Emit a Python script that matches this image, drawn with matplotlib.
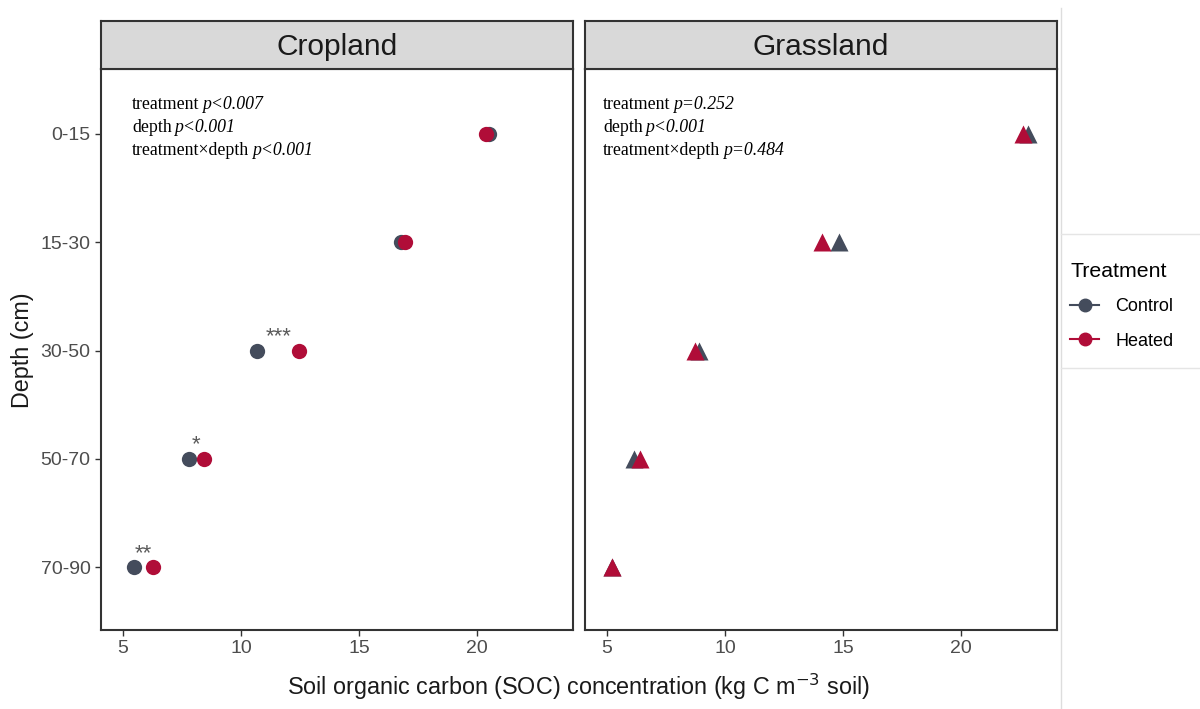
import numpy as np
import matplotlib
matplotlib.use("Agg")
import matplotlib.pyplot as plt
from matplotlib.lines import Line2D

depths = ["0-15", "15-30", "30-50", "50-70", "70-90"]
crop_control = [20.5, 16.8, 10.7, 7.8, 5.47]
crop_heated = [20.4, 16.95, 12.46, 8.43, 6.27]
grass_control = [22.84, 14.83, 8.92, 6.14, 5.21]
grass_heated = [22.63, 14.1, 8.73, 6.40, 5.21]
crop_stars = ["", "", "***", "*", "**"]

crop_stats = [("treatment", "p<0.007"), ("depth", "p<0.001"), ("treatment\u00d7depth", "p<0.001")]
grass_stats = [("treatment", "p=0.252"), ("depth", "p<0.001"), ("treatment\u00d7depth", "p=0.484")]

grey = "#444C5C"
red = "#B00D38"
W, H = 1200, 709

plt.rcParams['font.family'] = ['Liberation Sans', 'DejaVu Sans']
fig = plt.figure(figsize=(12, 7.09), dpi=100)

def px(x0, y0, x1, y1):
    return [x0 / W, 1 - y1 / H, (x1 - x0) / W, (y1 - y0) / H]

panels = [
    ("Cropland", 101, crop_control, crop_heated, "o", crop_stats),
    ("Grassland", 585, grass_control, grass_heated, "^", grass_stats),
]
ypos = np.arange(1, len(depths) + 1)

for i, (name, x0, ctrl, heat, mk, stats) in enumerate(panels):
    ax = fig.add_axes(px(x0, 69, x0 + 472, 630))
    ms = 11 if mk == "o" else 13
    ax.plot(ctrl, ypos, ls="none", marker=mk, ms=ms, color=grey, mec="none", zorder=3)
    ax.plot(heat, ypos, ls="none", marker=mk, ms=ms, color=red, mec="none", zorder=4)
    ax.set_xlim(4.07, 24.07)
    ax.set_ylim(5.58, 0.4)
    ax.set_xticks([5, 10, 15, 20])
    ax.set_yticks(ypos)
    ax.tick_params(colors="#333333", labelcolor="#4D4D4D", labelsize=14, length=4, width=1)
    if i == 0:
        ax.set_yticklabels(depths)
        for c, h, s, y in zip(ctrl, heat, crop_stars, ypos):
            if s:
                ax.text((c + h) / 2, y - 0.03, s, ha="center", va="bottom",
                        fontsize=16, color="#5A5A5A")
    else:
        ax.set_yticklabels([])
        ax.tick_params(axis="y", length=0)
    for sp in ax.spines.values():
        sp.set_color("#333333")
        sp.set_linewidth(1.5)
    # stats text
    tx = 0.0657 if i == 0 else 0.038
    for j, (a, b) in enumerate(stats):
        t = ax.text(tx, 0.9376 - j * 0.041, a, transform=ax.transAxes, va="center",
                    fontsize=12.8, family="Liberation Serif")
        ax.annotate(b, xy=(1, 0), xycoords=t, xytext=(2, 0), textcoords="offset points",
                    va="bottom", ha="left",
                    fontsize=12.8, family="Liberation Serif", style="italic")
    # strip
    sx = fig.add_axes(px(x0, 21, x0 + 472, 69))
    sx.set_facecolor("#D9D9D9")
    sx.set_xticks([])
    sx.set_yticks([])
    for sp in sx.spines.values():
        sp.set_color("#333333")
        sp.set_linewidth(1.5)
    sx.text(0.5, 0.45, name, ha="center", va="center", fontsize=21.5, color="#1A1A1A",
            transform=sx.transAxes)

fig.text(578 / W, 1 - 687 / H, "Soil organic carbon (SOC) concentration (kg C m$^{-3}$ soil)",
         ha="center", va="center", fontsize=16.8, color="#1A1A1A")
fig.text(22 / W, 1 - 350 / H, "Depth (cm)", ha="center", va="center", rotation=90,
         fontsize=16.8, color="#1A1A1A")

# pasted-legend frame lines
fig.add_artist(Line2D([1061 / W, 1061 / W], [0, 1 - 8 / H], transform=fig.transFigure,
                      color="#DDDDDD", lw=1))
for yy in (234, 368):
    fig.add_artist(Line2D([1061 / W, 1], [1 - yy / H, 1 - yy / H], transform=fig.transFigure,
                          color="#E5E5E5", lw=1))

handles = [Line2D([], [], color=grey, marker="o", ms=9, lw=1.5),
           Line2D([], [], color=red, marker="o", ms=9, lw=1.5)]
fig.legend(handles, ["Control", "Heated"], title="Treatment", loc="upper left",
           bbox_to_anchor=(1054 / W, 1 - 246 / H), frameon=False, fontsize=13,
           title_fontsize=15.3, alignment="left", handlelength=1.6, labelspacing=0.95,
           handletextpad=0.9)

plt.savefig("out.png", dpi=100)
